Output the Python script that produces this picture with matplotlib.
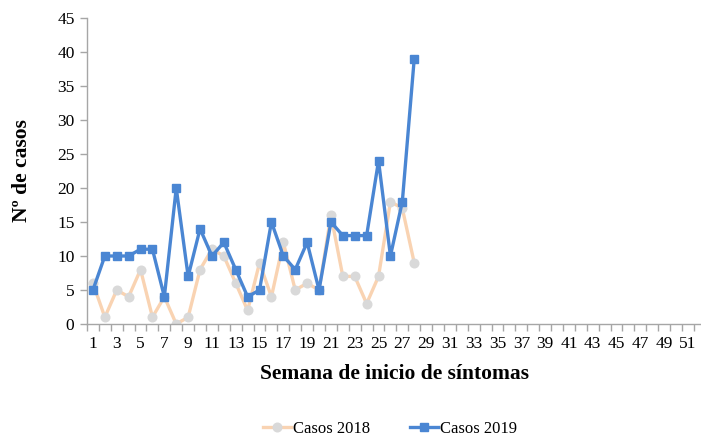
import matplotlib
matplotlib.use("Agg")
import matplotlib.pyplot as plt

# weeks and cases
semanas = list(range(1, 53))
semanas_datos = list(range(1, 29))
casos_2018 = [6, 1, 5, 4, 8, 1, 4, 0, 1, 8, 11, 10, 6, 2, 9, 4, 12, 5, 6, 5,
              16, 7, 7, 3, 7, 18, 17, 9]
casos_2019 = [5, 10, 10, 10, 11, 11, 4, 20, 7, 14, 10, 12, 8, 4, 5, 15, 10, 8, 12, 5,
              15, 13, 13, 13, 24, 10, 18, 39]
etiquetas_x = [str(s) for s in semanas if s % 2 == 1]

plt.rcParams["font.family"] = ["Liberation Serif", "DejaVu Serif"]

fig = plt.figure(figsize=(7.01, 4.38), dpi=100)
ax = fig.add_axes([87 / 701, 1 - 324 / 438, 614 / 701, 306 / 438])

ax.plot(semanas_datos, casos_2018, color="#F9D3B2", lw=2.4, marker="o", ms=6.2,
        mfc="#D9D9D9", mec="#D9D9D9", label="Casos 2018", zorder=2)
ax.plot(semanas_datos, casos_2019, color="#4A86D3", lw=2.4, marker="s", ms=6.2,
        mfc="#4A86D3", mec="#4A86D3", label="Casos 2019", zorder=3)

ax.set_ylim(0, 45)
ax.set_yticks(range(0, 46, 5))
ax.set_xlim(0.5, 52.1)
ax.set_xticks([s for s in semanas if s % 2 == 1])
ax.set_xticklabels(etiquetas_x)
ax.set_xticks([s + 0.5 for s in range(0, 52)], minor=True)
ax.tick_params(axis="x", which="major", length=0, pad=9, labelsize=12.5)
ax.tick_params(axis="x", which="minor", length=5, color="#A6A6A6", width=1)
ax.tick_params(axis="y", length=5, color="#A6A6A6", width=1, labelsize=12.5, pad=4)

for side in ["top", "right"]:
    ax.spines[side].set_visible(False)
for side in ["left", "bottom"]:
    ax.spines[side].set_color("#A6A6A6")
    ax.spines[side].set_linewidth(1)

ax.set_xlabel("Semana de inicio de síntomas", fontsize=15.5, fontweight="bold", labelpad=8)
ax.set_ylabel("Nº de casos", fontsize=15.5, fontweight="bold", labelpad=18)

fig.legend(loc="center", bbox_to_anchor=(390 / 701, 1 - 429 / 438), ncol=2,
           frameon=False, fontsize=12, handlelength=1.7, columnspacing=2.4,
           handletextpad=0.1, borderpad=0.2)

fig.savefig("out.png", dpi=100)
